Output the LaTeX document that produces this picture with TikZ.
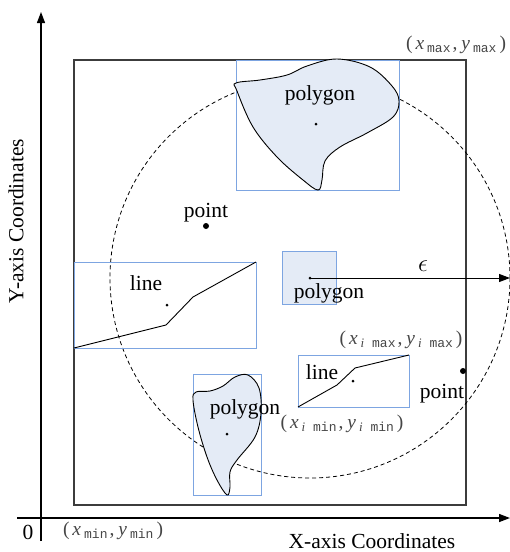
\documentclass[tikz,border=0pt]{standalone}
\usepackage{fontspec}
\setmainfont{Liberation Serif}
\setmonofont{Liberation Mono}
\usetikzlibrary{arrows.meta}
\definecolor{boxblue}{RGB}{125,165,225}
\definecolor{polyfill}{RGB}{228,235,246}
\definecolor{framegray}{RGB}{60,60,60}
\definecolor{labgray}{RGB}{70,70,70}
\newcommand{\subtt}[1]{\raisebox{-3pt}{\fontsize{13}{13}\selectfont\ttfamily #1}}
\newcommand{\crdlab}[2]{(\kern3pt\textit{x}\kern3pt#1\kern2pt,\kern4pt\textit{y}\kern3pt#2\kern3pt)}
\tikzset{
  lab/.style={font=\fontsize{21.5}{24}\selectfont, inner sep=0pt},
  coordlab/.style={font=\fontsize{19.5}{21}\selectfont, text=labgray, inner sep=0pt},
  bbox/.style={draw=boxblue, line width=0.9pt},
  shapeline/.style={draw=black, line width=0.9pt, fill=polyfill},
  axis/.style={line width=1.3pt, -{Triangle[length=11pt,width=8pt]}},
  cdot/.style={circle, fill=black, inner sep=0pt, minimum size=3pt},
  pdot/.style={circle, fill=black, inner sep=0pt, minimum size=6pt},
}
\begin{document}
\begin{tikzpicture}[x=1pt,y=-1pt]
\useasboundingbox (0,0) rectangle (510,552);
% axes
\coordinate (ybot) at (41,541);
\coordinate (ytop) at (41,12);
\coordinate (xleft) at (17,518);
\coordinate (xright) at (510,518);
\draw[axis] (ybot) -- (ytop);
\draw[axis] (xleft) -- (xright);
\node[lab] (zero) at (28,532) {0};
\node[lab] (xaxis) at (372,541) {X-axis Coordinates};
\node[lab, rotate=90] (yaxis) at (16,221) {Y-axis Coordinates};
% outer frame
\draw[framegray, line width=1.2pt] (74,60) rectangle (466,505);
% dashed circle
\draw[line width=0.8pt, dash pattern=on 4pt off 3pt] (310,278) circle[radius=200];
% top polygon
\draw[bbox] (236,60) rectangle (399,190);
\draw[shapeline] plot[smooth cycle, tension=0.6] coordinates {
 (236,83) (260,80) (287,75) (307,66) (337,59) (370,67) (392,86) (399,101)
 (393,117) (367,133) (340,147) (325,161) (322,180) (318,190) (303,180)
 (277,157) (253,127) (237,91)};
\node[lab] (ptop) at (320,95) {polygon};
\node[cdot] (ctop) at (316,124) {};
% point upper
\node[lab] (pt1lab) at (206,213) {point};
\node[pdot] (pt1) at (206,226) {};
% left line box
\draw[bbox] (74,262) rectangle (256,348);
\draw[line width=0.9pt] (74,348) -- (166,325) -- (193,297) -- (256,262);
\node[lab] (l1lab) at (146,283) {line};
\node[cdot] (l1c) at (167,305) {};
% middle small polygon
\node[draw=boxblue, fill=polyfill, line width=0.9pt, minimum width=54pt, minimum height=53pt, inner sep=0pt] (sq) at (309,277.5) {};
\node[cdot] (sqc) at (310,278) {};
\node[lab] (sqlab) at (329,293) {polygon};
\coordinate (epsend) at (510,278);
\draw[line width=1pt, -{Triangle[length=11pt,width=8pt]}] (sqc.center) -- (epsend);
\node[font=\fontsize{24}{26}\selectfont, inner sep=0pt] (eps) at (423,266) {$\epsilon$};
% bottom polygon
\draw[bbox] (193,374) rectangle (261,495);
\draw[shapeline] plot[smooth cycle, tension=0.6] coordinates {
 (248,375) (259,388) (261,413) (255,437) (237,460) (230,472) (230,487)
 (227,495) (217,480) (207,457) (198,427) (193,400) (196,392) (210,391)
 (223,386) (235,377)};
\node[lab] (pbotlab) at (245,409) {polygon};
\node[cdot] (pbotc) at (227,434) {};
% right line box
\draw[bbox] (298,355) rectangle (409,407);
\draw[line width=0.9pt] (298,407) -- (337,385) -- (355,368) -- (409,355);
\node[lab] (l2lab) at (322,372) {line};
\node[cdot] (l2c) at (353,381) {};
% right point
\node[pdot] (pt2) at (463,371) {};
\node[lab] (pt2lab) at (442,394) {point};
% coordinate labels
\node[coordlab] (maxlab) at (456,45) {\crdlab{\subtt{max}}{\subtt{max}}};
\node[coordlab] (minlab) at (113,531) {\crdlab{\subtt{min}}{\subtt{min}}};
\node[coordlab] (imaxlab) at (401,340) {\crdlab{\subtt{{\rmfamily\itshape i} max}}{\subtt{{\rmfamily\itshape i} max}}};
\node[coordlab] (iminlab) at (342,424) {\crdlab{\subtt{{\rmfamily\itshape i} min}}{\subtt{{\rmfamily\itshape i} min}}};
\end{tikzpicture}
\end{document}
